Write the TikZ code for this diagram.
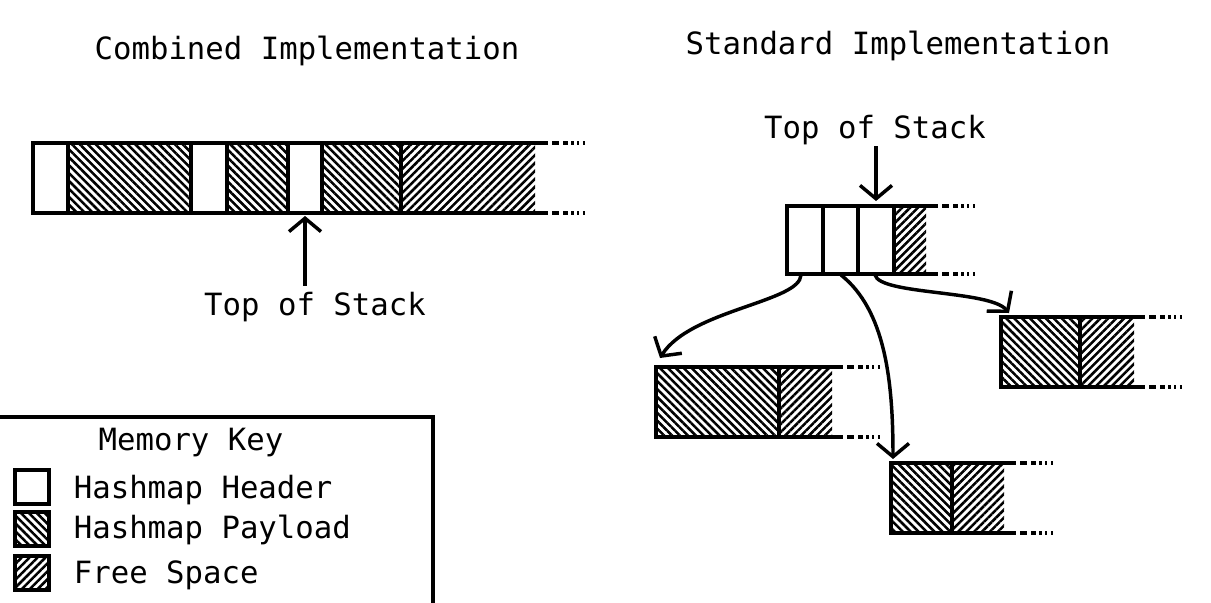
\documentclass[tikz,border=0pt]{standalone}
\usepackage{fontspec}
\setmonofont{DejaVu Sans Mono}
\usetikzlibrary{arrows.meta,patterns.meta}

% top and bottom edge of a memory row, with its fading tail
\newcommand{\memedge}[4]{%
  \draw (#1,#3) -- (#2,#3) (#1,#4) -- (#2,#4);
  \draw[tail] (#2+4,#3) -- +(42,0) (#2+4,#4) -- +(42,0);}

\begin{document}
\begin{tikzpicture}[x=0.75pt,y=-0.75pt,line width=2.8pt,
        >={Straight Barb[length=10pt,width=24pt]},
        lbl/.style={font=\ttfamily\fontsize{23}{28}\selectfont,inner sep=0pt},
        hdr/.style={draw,fill=white},
        pay/.style={draw,pattern={Lines[angle=-45,distance=4.2pt,line width=1.9pt]}},
        free/.style={pattern={Lines[angle=45,distance=4.2pt,line width=1.9pt]}},
        tail/.style={dash pattern=on 5.5pt off 3pt on 3.5pt off 2.5pt on 1.8pt off 2.5pt on 1.8pt off 2.5pt on 1.8pt off 60pt},
        link/.style={->,line width=2.6pt}]
  \useasboundingbox (0,0) rectangle (1211,603);

  % titles
  \node[lbl,anchor=base] (tcomb) at (307,60) {Combined Implementation};
  \node[lbl,anchor=base] (tstd) at (898,54) {Standard Implementation};

  % combined implementation
  \fill[free] (401,143) rectangle (535,213);
  \draw[hdr] (33,143) rectangle (68,213);
  \draw[pay] (68,143) rectangle (191,213);
  \draw[hdr] (191,143) rectangle (227,213);
  \draw[pay] (227,143) rectangle (288,213);
  \draw[hdr] (288,143) rectangle (322,213);
  \draw[pay] (322,143) rectangle (401,213);
  \memedge{33}{548}{143}{213}
  \coordinate (ctop) at (305,216);
  \node[lbl,anchor=base] (cl) at (315,315) {Top of Stack};
  \draw[link,shorten <=3pt] (cl.north -| ctop) -- (ctop);

  % standard implementation: stack of headers
  \fill[free] (894,206) rectangle (926,274);
  \draw[hdr] (787,206) rectangle (823,274);
  \draw[hdr] (823,206) rectangle (858,274);
  \draw[hdr] (858,206) rectangle (894,274);
  \memedge{787}{938}{206}{274}
  \coordinate (s1) at (801,275);
  \coordinate (s2) at (841,275);
  \coordinate (s3) at (875,275);
  \coordinate (stop) at (876,201);
  \node[lbl,anchor=base] (sl) at (875,138) {Top of Stack};
  \draw[link] (sl.south -| stop) -- (stop);

  % payload blocks
  \fill[free] (779,367) rectangle (832,437);
  \draw[pay] (656,367) rectangle (779,437);
  \memedge{656}{843}{367}{437}
  \coordinate (b1) at (660,358);

  \fill[free] (952,463) rectangle (1004,533);
  \draw[pay] (891,463) rectangle (952,533);
  \memedge{891}{1016}{463}{533}
  \coordinate (b2) at (893,459);

  \fill[free] (1080,317) rectangle (1134,387);
  \draw[pay] (1001,317) rectangle (1080,387);
  \memedge{1001}{1145}{317}{387}
  \coordinate (b3) at (1009,313);

  \draw[link] (s1) .. controls (800,302) and (690,310) .. (b1);
  \draw[link] (s2) .. controls (885,310) and (893,380) .. (b2);
  \draw[link] (s3) .. controls (880,295) and (990,290) .. (b3);

  % memory key
  \draw (0,417) -- (433,417) -- (433,606);
  \node[lbl,anchor=base] (kt) at (191,450) {Memory Key};
  \draw[hdr] (15,470) rectangle (49,504);
  \draw[pay] (15,512) rectangle (49,546);
  \draw[free,draw] (15,556) rectangle (49,590);
  \node[lbl,anchor=base west] (kh) at (72,498) {Hashmap Header};
  \node[lbl,anchor=base west] (kp) at (72,538) {Hashmap Payload};
  \node[lbl,anchor=base west] (kf) at (72,583) {Free Space};
\end{tikzpicture}
\end{document}
